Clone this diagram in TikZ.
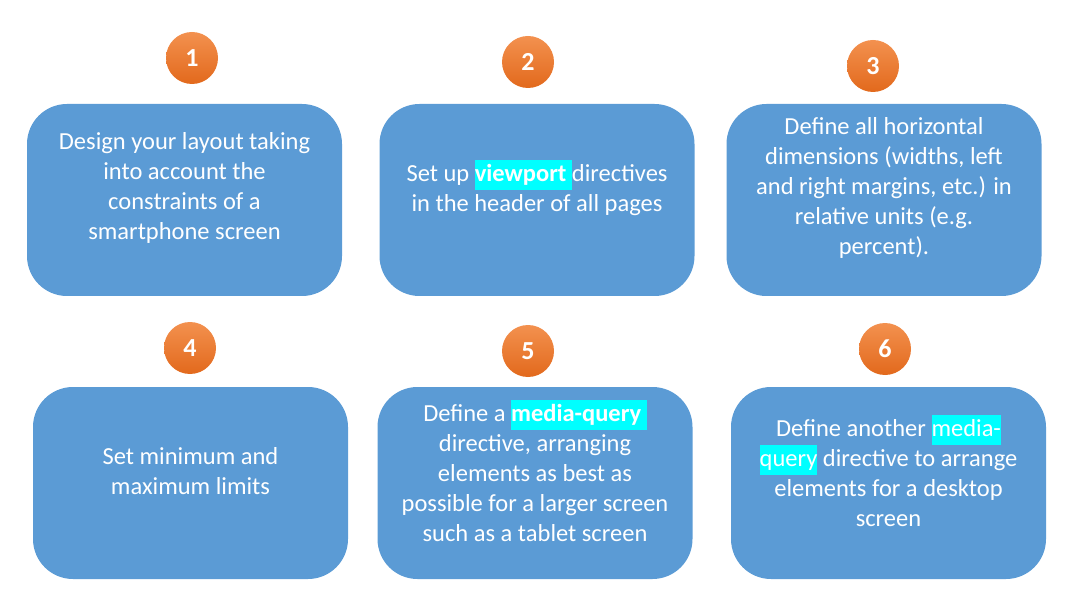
\documentclass[tikz,border=0pt]{standalone}
\usepackage{fontspec}
\setmainfont{Carlito}
\definecolor{boxblue}{HTML}{5B9BD5}
\definecolor{hlcyan}{HTML}{00FFFF}
\definecolor{orangetop}{HTML}{F3914F}
\definecolor{orangebot}{HTML}{E2691C}
\newcommand{\hl}[1]{{\setlength{\fboxsep}{0pt}\colorbox{hlcyan}{\strut#1}}}

\begin{document}
\begin{tikzpicture}[x=1pt, y=-1pt,
    stepbox/.style={rectangle, rounded corners=40pt, fill=boxblue,
                    minimum width=315pt, minimum height=192pt, inner sep=0pt},
    steptext/.style={text=white, align=center, inner sep=0pt,
                     font=\fontsize{24.5}{30}\selectfont},
    badge/.style={circle, minimum size=52pt, inner sep=0pt,
                  top color=orangetop, bottom color=orangebot,
                  text=white, font=\fontsize{26}{30}\selectfont\bfseries}]
\useasboundingbox (0,0) rectangle (1092,612);

% step boxes
\node[stepbox] (box1) at (184.5,200) {};
\node[stepbox] (box2) at (537,200) {};
\node[stepbox] (box3) at (884,200) {};
\node[stepbox] (box4) at (190.5,483) {};
\node[stepbox] (box5) at (535,483) {};
\node[stepbox] (box6) at (888.5,483) {};

% numbers
\node[badge] (num1) at (192,58) {1};
\node[badge] (num2) at (528,62) {2};
\node[badge] (num3) at (873,66) {3};
\node[badge] (num4) at (190,348) {4};
\node[badge] (num5) at (528,351) {5};
\node[badge] (num6) at (885,349) {6};

% texts
\node[steptext] (txt1) at ([yshift=12pt]box1.center)
  {Design your layout taking\\into account the\\constraints of a\\smartphone screen};
\node[steptext] (txt2) at ([yshift=12pt]box2.center)
  {Set up \hl{\textbf{viewport}\ }directives\\in the header of all pages};
\node[steptext] (txt3) at ([yshift=12pt]box3.center)
  {Define all horizontal\\dimensions (widths, left\\and right margins, etc.) in\\relative units (e.g.\\percent).};
\node[steptext] (txt4) at ([yshift=12pt]box4.center)
  {Set minimum and\\maximum limits};
\node[steptext] (txt5) at ([yshift=12pt]box5.center)
  {Define a \hl{\textbf{media-query}\ }\\directive, arranging\\elements as best as\\possible for a larger screen\\such as a tablet screen};
\node[steptext] (txt6) at ([yshift=12pt]box6.center)
  {Define another \hl{media-}\\\hl{query} directive to arrange\\elements for a desktop\\screen};
\end{tikzpicture}
\end{document}
